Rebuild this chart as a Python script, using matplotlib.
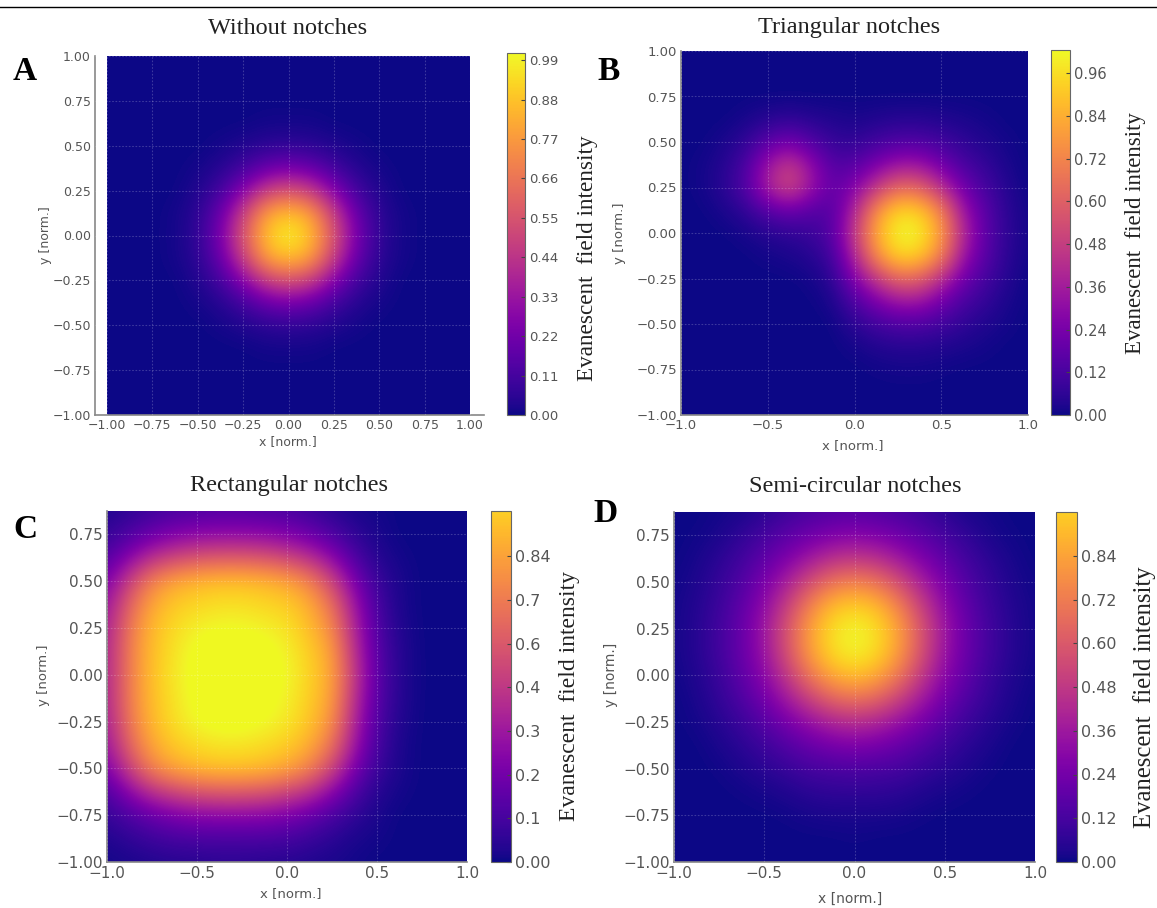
import numpy as np
import matplotlib
matplotlib.use('Agg')
import matplotlib.pyplot as plt
from matplotlib.cm import ScalarMappable
from matplotlib.colors import ListedColormap, Normalize
from matplotlib.lines import Line2D
from matplotlib.patches import Rectangle

W, H = 1157, 908
SERIF = 'Liberation Serif'
GREY = '#555555'

# field intensity, on a 0.125 grid, top row first
field_a = [
    [0]*17, [0]*17, [0]*17,
    [0, 0, 0, 0, 0, 0, 0, .01, .01, .01, 0, 0, 0, 0, 0, 0, 0],
    [0, 0, 0, 0, 0, .01, .03, .05, .06, .05, .03, .01, 0, 0, 0, 0, 0],
    [0, 0, 0, 0, .01, .04, .10, .19, .23, .19, .10, .04, .01, 0, 0, 0, 0],
    [0, 0, 0, 0, .03, .10, .27, .47, .55, .47, .27, .10, .03, 0, 0, 0, 0],
    [0, 0, 0, .01, .05, .19, .47, .78, .87, .78, .47, .19, .05, .01, 0, 0, 0],
    [0, 0, 0, .01, .06, .23, .55, .87, 1.0, .87, .55, .23, .06, .01, 0, 0, 0],
    [0, 0, 0, .01, .05, .19, .47, .78, .87, .78, .47, .19, .05, .01, 0, 0, 0],
    [0, 0, 0, 0, .03, .10, .27, .47, .55, .47, .27, .10, .03, 0, 0, 0, 0],
    [0, 0, 0, 0, .01, .04, .10, .19, .23, .19, .10, .04, .01, 0, 0, 0, 0],
    [0, 0, 0, 0, 0, .01, .03, .05, .06, .05, .03, .01, 0, 0, 0, 0, 0],
    [0, 0, 0, 0, 0, 0, 0, .01, .01, .01, 0, 0, 0, 0, 0, 0, 0],
    [0]*17, [0]*17, [0]*17,
]

field_b = [
    [0]*17, [0]*17, [0]*17,
    [0, 0, 0, .015, .04, .06, .04, .03, .02, .03, .04, .04, .03, .02, .01, 0, 0],
    [0, 0, .02, .06, .16, .22, .14, .07, .06, .10, .13, .13, .10, .06, .03, .01, 0],
    [0, .01, .04, .12, .33, .47, .30, .14, .15, .24, .33, .33, .22, .12, .07, .02, 0],
    [0, .01, .05, .14, .37, .52, .33, .17, .26, .45, .62, .60, .42, .22, .11, .04, 0],
    [0, 0, .02, .06, .15, .20, .15, .14, .38, .73, .92, .90, .70, .33, .16, .05, .01],
    [0, 0, 0, .015, .04, .06, .08, .15, .45, .82, 1.0, .99, .78, .40, .17, .06, .01],
    [0, 0, 0, 0, .01, .02, .04, .10, .38, .73, .92, .90, .70, .33, .16, .05, .01],
    [0, 0, 0, 0, 0, 0, .01, .05, .26, .45, .62, .60, .42, .22, .11, .04, 0],
    [0, 0, 0, 0, 0, 0, 0, .02, .13, .24, .33, .33, .22, .12, .07, .02, 0],
    [0, 0, 0, 0, 0, 0, 0, 0, .05, .10, .13, .13, .10, .06, .03, .01, 0],
    [0, 0, 0, 0, 0, 0, 0, 0, .01, .03, .04, .04, .03, .02, .01, 0, 0],
    [0, 0, 0, 0, 0, 0, 0, 0, 0, .005, .01, .01, .005, 0, 0, 0, 0],
    [0]*17, [0]*17,
]

# C goes a little above 1 on the plateau so it stays flat yellow
field_c = [
    [.03, .06, .09, .12, .13, .14, .14, .13, .12, .09, .05, .02, .01, 0, 0, 0, 0],
    [.07, .13, .20, .25, .28, .29, .29, .28, .25, .20, .13, .06, .02, 0, 0, 0, 0],
    [.14, .28, .42, .50, .55, .57, .57, .55, .50, .42, .29, .13, .04, .01, 0, 0, 0],
    [.24, .48, .70, .80, .84, .86, .86, .84, .80, .70, .50, .24, .08, .02, 0, 0, 0],
    [.32, .60, .80, .89, .92, .94, .94, .92, .90, .82, .64, .33, .11, .02, 0, 0, 0],
    [.36, .66, .85, .93, .98, 1.0, 1.0, .98, .95, .86, .72, .38, .13, .03, 0, 0, 0],
    [.38, .68, .86, .95, 1.02, 1.05, 1.05, 1.03, .98, .90, .78, .42, .15, .04, 0, 0, 0],
    [.38, .68, .87, .96, 1.03, 1.06, 1.06, 1.04, 1.0, .91, .80, .45, .16, .04, 0, 0, 0],
    [.38, .68, .86, .95, 1.02, 1.05, 1.05, 1.03, .98, .90, .78, .42, .15, .04, 0, 0, 0],
    [.36, .66, .85, .94, 1.0, 1.03, 1.03, 1.0, .96, .88, .74, .38, .13, .03, 0, 0, 0],
    [.32, .60, .80, .89, .93, .95, .95, .93, .90, .82, .65, .33, .11, .02, 0, 0, 0],
    [.24, .48, .70, .80, .85, .87, .87, .85, .80, .70, .50, .24, .08, .02, 0, 0, 0],
    [.13, .28, .42, .50, .55, .57, .57, .55, .50, .42, .28, .13, .04, .01, 0, 0, 0],
    [.07, .13, .19, .24, .27, .28, .28, .27, .24, .19, .12, .06, .02, 0, 0, 0, 0],
    [.03, .06, .09, .11, .12, .12, .12, .12, .11, .08, .05, .02, .01, 0, 0, 0, 0],
    [.01, .02, .03, .04, .04, .05, .05, .04, .04, .03, .02, .01, 0, 0, 0, 0, 0],
]

# D is the same either side of x = 0: columns here run x = 0 ... 1
field_d_half = [
    [.15, .14, .12, .09, .05, .02, .01, 0, 0],
    [.27, .25, .21, .16, .11, .06, .02, .005, 0],
    [.45, .42, .34, .25, .17, .10, .05, .015, 0],
    [.70, .65, .52, .36, .24, .135, .07, .025, .005],
    [.90, .85, .69, .47, .29, .17, .085, .035, .01],
    [1.0, .94, .78, .54, .33, .19, .10, .04, .01],
    [.99, .93, .77, .53, .32, .19, .10, .04, .01],
    [.87, .81, .66, .45, .28, .17, .08, .03, .005],
    [.65, .60, .48, .34, .22, .13, .065, .02, 0],
    [.41, .38, .31, .23, .15, .085, .04, .01, 0],
    [.25, .23, .19, .14, .09, .05, .02, 0, 0],
    [.13, .12, .11, .075, .05, .025, .005, 0, 0],
    [.06, .06, .05, .03, .015, .005, 0, 0, 0],
    [.02, .02, .015, .005, 0, 0, 0, 0, 0],
    [.005, 0, 0, 0, 0, 0, 0, 0, 0],
    [0, 0, 0, 0, 0, 0, 0, 0, 0],
]

ticks_a = [-1, -.75, -.5, -.25, 0, .25, .5, .75, 1]
ticks_half = [-1, -.5, 0, .5, 1]
ticks_y = [-1, -.75, -.5, -.25, 0, .25, .5, .75]

cbar_ticks_a = [0, .11, .22, .33, .44, .55, .66, .77, .88, .99]
cbar_ticks_b = [0, .12, .24, .36, .48, .60, .72, .84, .96]
cbar_labels_c = ['0.00', '0.1', '0.2', '0.3', '0.4', '0.6', '0.7', '0.84']
cbar_labels_d = ['0.00', '0.12', '0.24', '0.36', '0.48', '0.60', '0.72', '0.84']


def px_axes(fig, x0, y0, x1, y1):
    return fig.add_axes([x0 / W, 1 - y1 / H, (x1 - x0) / W, (y1 - y0) / H])


def draw_panel(fig, field, box, img_box, ytop, xticks, yticks, xfmt, fs):
    ax = px_axes(fig, *box)
    x0, y0, x1, y1 = img_box
    # map the outer box through the pixel scale of the image
    sx = 2 / (x1 - x0)
    sy = (ytop + 1) / (y1 - y0)
    xlim = (-1 - (x0 - box[0]) * sx, 1 + (box[2] - x1) * sx)
    ylim = (-1 - (box[3] - y1) * sy, ytop + (y0 - box[1]) * sy)

    z = np.array(field, dtype=float)
    im = ax.imshow(z, cmap='plasma', vmin=0, vmax=1, interpolation='bicubic',
                   extent=(-1 - .0625, 1 + .0625, -1 - .0625, ytop + .0625), aspect='auto')
    im.set_clip_path(Rectangle((-1, -1), 2, ytop + 1, transform=ax.transData))
    ax.set_xlim(xlim)
    ax.set_ylim(ylim)

    ax.set_xticks(xticks)
    ax.set_xticklabels([xfmt.format(t).replace('-', '\u2212') for t in xticks])
    ax.set_yticks(yticks)
    ax.set_yticklabels([f'{t:.2f}'.replace('-', '\u2212') for t in yticks])
    ax.tick_params(length=0, labelsize=fs, labelcolor=GREY, pad=3)
    ax.grid(color='white', alpha=.2, lw=.8, ls=(0, (1.5, 1.5)))
    ax.set_axisbelow(False)
    for side in ['top', 'right']:
        ax.spines[side].set_visible(False)
    for side in ['left', 'bottom']:
        ax.spines[side].set_color('#888888')
        ax.spines[side].set_linewidth(1.2)
    return ax


def draw_cbar(fig, box, cmap, vmax, ticks, labels, fs):
    cax = px_axes(fig, *box)
    sm = ScalarMappable(norm=Normalize(0, vmax), cmap=cmap)
    cb = fig.colorbar(sm, cax=cax, ticks=ticks)
    cb.set_ticklabels(labels)
    cax.tick_params(direction='in', length=3, width=.8, color='#444444',
                    labelsize=fs, labelcolor=GREY, pad=3)
    cb.outline.set_edgecolor('#666666')
    cb.outline.set_linewidth(.8)
    return cb


def label(fig, x, y, s, **kw):
    fig.text(x / W, 1 - y / H, s, ha='center', va='center', **kw)


def main():
    fig = plt.figure(figsize=(W / 100, H / 100), dpi=100)
    fig.add_artist(Line2D([0, 1], [1 - 7 / H] * 2, color='black', lw=1))

    half = np.array(field_d_half, dtype=float)
    field_d = np.hstack([half[:, :0:-1], half])

    draw_panel(fig, field_a, (95, 56, 484, 415), (107, 56, 470, 415), 1,
               ticks_a, ticks_a, '{:.2f}', 9)
    draw_panel(fig, field_b, (681, 51, 1028, 415), (681, 51, 1028, 415), 1,
               ticks_half, ticks_a, '{:.1f}', 9.5)
    draw_panel(fig, field_c, (107, 511, 467, 862), (107, 511, 467, 862), .875,
               ticks_half, ticks_y, '{:.1f}', 11)
    draw_panel(fig, field_d, (674, 512, 1035, 862), (674, 512, 1035, 862), .875,
               ticks_half, ticks_y, '{:.1f}', 11)

    short = ListedColormap(plt.get_cmap('plasma')(np.linspace(0, .9, 256)))
    draw_cbar(fig, (507, 53, 525, 415), 'plasma', 1.01, cbar_ticks_a,
              [f'{t:.2f}' for t in cbar_ticks_a], 9.5)
    draw_cbar(fig, (1051, 50, 1070, 415), 'plasma', 1.025, cbar_ticks_b,
              [f'{t:.2f}' for t in cbar_ticks_b], 10.5)
    draw_cbar(fig, (491, 511, 511, 862), short, .964, cbar_ticks_b[:8], cbar_labels_c, 11.5)
    draw_cbar(fig, (1056, 512, 1077, 862), short, .96, cbar_ticks_b[:8], cbar_labels_d, 11.5)

    for x, y, s in [(288, 28, 'Without notches'), (849, 28, 'Triangular notches'),
                    (289, 485, 'Rectangular notches'), (855, 486, 'Semi-circular notches')]:
        label(fig, x, y, s, family=SERIF, fontsize=17.5, color='#222222')
    for x, y, s in [(25, 72, 'A'), (609, 72, 'B'), (25, 530, 'C'), (606, 513, 'D')]:
        label(fig, x, y, s, family=SERIF, fontsize=24, weight='bold', color='black')
    for x, y, fs in [(588, 258, 16.7), (1136, 233, 16.5), (569, 696, 17), (1145, 697, 17.8)]:
        label(fig, x, y, 'Evanescent  field intensity', family=SERIF, fontsize=fs,
              rotation=90, color='#222222')

    for x, y, fs in [(288, 442, 9), (853, 446, 9.5), (291, 894, 9.5), (850, 899, 10)]:
        label(fig, x, y, 'x [norm.]', fontsize=fs, color=GREY)
    for x, y, fs in [(46, 235, 9), (619, 233, 9.5), (44, 675, 9.5), (611, 675, 10)]:
        label(fig, x, y, 'y [norm.]', fontsize=fs, color=GREY, rotation=90)

    fig.savefig('out.png', dpi=100)


if __name__ == "__main__":
    main()
